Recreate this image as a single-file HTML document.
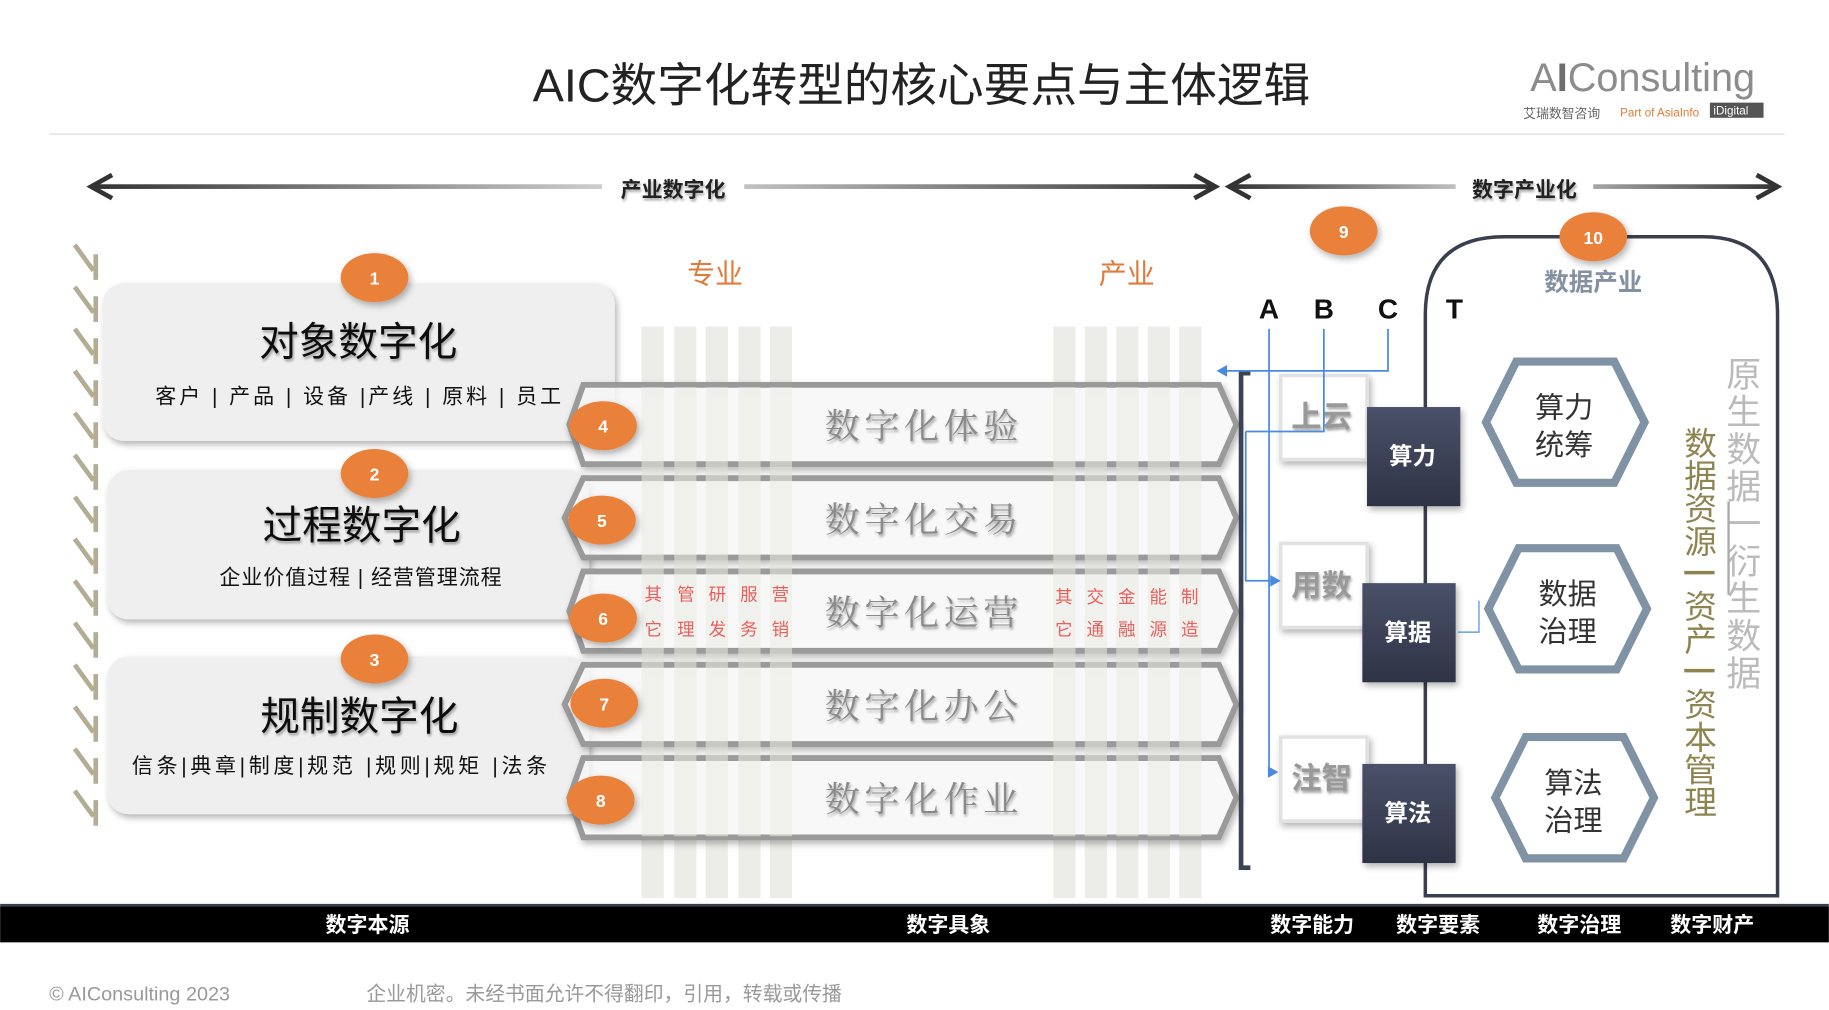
<!DOCTYPE html>
<html><head><meta charset="utf-8"><style>
html,body{margin:0;padding:0;background:#fff;width:1829px;height:1010px;overflow:hidden}
svg text{font-family:"Liberation Sans","Noto Sans CJK SC",sans-serif}
</style></head><body>
<svg width="1829" height="1010" viewBox="0 0 1568 866" xmlns="http://www.w3.org/2000/svg">
<defs>
<linearGradient id="arr1" gradientUnits="userSpaceOnUse" x1="80" y1="0" x2="1040" y2="0"><stop offset="0" stop-color="#333"/><stop offset="0.5" stop-color="#ddd"/><stop offset="1" stop-color="#333"/></linearGradient>
<linearGradient id="arr2" gradientUnits="userSpaceOnUse" x1="1056" y1="0" x2="1522" y2="0"><stop offset="0" stop-color="#333"/><stop offset="0.5" stop-color="#ddd"/><stop offset="1" stop-color="#333"/></linearGradient>
<linearGradient id="dk" x1="0" y1="0" x2="0" y2="1"><stop offset="0" stop-color="#4a5169"/><stop offset="1" stop-color="#2e3345"/></linearGradient>
<filter id="sh" x="-20%" y="-20%" width="140%" height="150%"><feDropShadow dx="2" dy="3" stdDeviation="3" flood-color="#000" flood-opacity="0.3"/></filter>
<filter id="ts"><feDropShadow dx="1" dy="2" stdDeviation="1.2" flood-color="#000" flood-opacity="0.35"/></filter>
</defs>
<!-- title -->
<text x="790" y="87" font-size="40" text-anchor="middle" fill="#222">AIC数字化转型的核心要点与主体逻辑</text>
<text x="1312" y="78" font-size="34" fill="#8c8c8c">A<tspan fill="#6d6d6d" font-weight="bold">I</tspan>Consulting</text>
<text x="1306" y="101" font-size="11" fill="#666">艾瑞数智咨询</text>
<text x="1389" y="100" font-size="10" fill="#e07b39">Part of AsiaInfo</text>
<rect x="1466" y="88" width="46" height="13" fill="#555"/><text x="1469" y="98" font-size="10" fill="#fff">iDigital</text>
<line x1="42" y1="115" x2="1530" y2="115" stroke="#e6e6e6" stroke-width="1.5"/>
<!-- top arrows -->
<rect x="80" y="158" width="960" height="4" fill="url(#arr1)"/>
<path d="M96 150 L78 160 L96 170 M1024 150 L1042 160 L1024 170" stroke="#333" stroke-width="4" fill="none"/>
<rect x="516" y="148" width="122" height="24" fill="#fff"/>
<text x="577" y="169" font-size="18" font-weight="bold" text-anchor="middle" fill="#222" filter="url(#ts)">产业数字化</text>
<rect x="1056" y="158" width="466" height="4" fill="url(#arr2)"/>
<path d="M1072 150 L1054 160 L1072 170 M1506 150 L1524 160 L1506 170" stroke="#333" stroke-width="4" fill="none"/>
<rect x="1248" y="148" width="118" height="24" fill="#fff"/>
<text x="1307" y="169" font-size="18" font-weight="bold" text-anchor="middle" fill="#222" filter="url(#ts)">数字产业化</text>
<!-- hatching -->
<g stroke="#b3ad94" stroke-width="4" fill="none">
<path d="M64 210 L80 232 M82 218 V240 M64 246 L80 268 M82 254 V276 M64 282 L80 304 M82 290 V312 M64 318 L80 340 M82 326 V348 M64 354 L80 376 M82 362 V384 M64 390 L80 412 M82 398 V420 M64 426 L80 448 M82 434 V456 M64 462 L80 484 M82 470 V492 M64 498 L80 520 M82 506 V528 M64 534 L80 556 M82 542 V564 M64 570 L80 592 M82 578 V600 M64 606 L80 628 M82 614 V636 M64 642 L80 664 M82 650 V672 M64 678 L80 700 M82 686 V708"/>
</g>
<!-- left boxes -->
<rect x="88" y="243" width="439" height="135" rx="18" fill="#efefef" filter="url(#sh)"/>
<rect x="92" y="403" width="413" height="128" rx="18" fill="#efefef" filter="url(#sh)"/>
<rect x="92" y="563" width="413" height="135" rx="18" fill="#efefef" filter="url(#sh)"/>
<!-- stripes background -->
<g fill="#ecece8">
<rect x="550" y="280" width="19" height="490"/><rect x="578" y="280" width="19" height="490"/><rect x="605" y="280" width="19" height="490"/><rect x="633" y="280" width="19" height="490"/><rect x="660" y="280" width="19" height="490"/>
<rect x="903" y="280" width="19" height="490"/><rect x="930" y="280" width="19" height="490"/><rect x="957" y="280" width="19" height="490"/><rect x="984" y="280" width="19" height="490"/><rect x="1011" y="280" width="19" height="490"/>
</g>
<!-- bands -->
<g fill="#fff" stroke="#9a9a9a" stroke-width="5" filter="url(#sh)" fill-opacity="0.75">
<path d="M500 330 H1045 L1060 364 L1045 398 H500 L488 364 Z"/>
<path d="M500 410 H1045 L1060 444 L1045 478 H500 L484 444 Z"/>
<path d="M500 490 H1045 L1060 524 L1045 558 H500 L488 524 Z"/>
<path d="M500 570 H1045 L1060 604 L1045 638 H500 L484 604 Z"/>
<path d="M500 650 H1045 L1060 684 L1045 718 H500 L488 684 Z"/>
</g>
<g fill="#ecece8" opacity="0.55">
<rect x="550" y="332" width="19" height="385"/><rect x="578" y="332" width="19" height="385"/><rect x="605" y="332" width="19" height="385"/><rect x="633" y="332" width="19" height="385"/><rect x="660" y="332" width="19" height="385"/>
<rect x="903" y="332" width="19" height="385"/><rect x="930" y="332" width="19" height="385"/><rect x="957" y="332" width="19" height="385"/><rect x="984" y="332" width="19" height="385"/><rect x="1011" y="332" width="19" height="385"/>
</g>
<g font-size="30" fill="#8a8a8a" text-anchor="middle" filter="url(#ts)" letter-spacing="4">
<text x="792" y="376" style="font-family:'Noto Serif CJK SC',serif">数字化体验</text>
<text x="792" y="456" style="font-family:'Noto Serif CJK SC',serif">数字化交易</text>
<text x="792" y="536" style="font-family:'Noto Serif CJK SC',serif">数字化运营</text>
<text x="792" y="616" style="font-family:'Noto Serif CJK SC',serif">数字化办公</text>
<text x="792" y="696" style="font-family:'Noto Serif CJK SC',serif">数字化作业</text>
</g>
<g font-size="15" fill="#e8605c" text-anchor="middle">
<text x="560" y="515">其</text><text x="588" y="515">管</text><text x="615" y="515">研</text><text x="642" y="515">服</text><text x="669" y="515">营</text>
<text x="560" y="545">它</text><text x="588" y="545">理</text><text x="615" y="545">发</text><text x="642" y="545">务</text><text x="669" y="545">销</text>
<text x="912" y="517">其</text><text x="939" y="517">交</text><text x="966" y="517">金</text><text x="993" y="517">能</text><text x="1020" y="517">制</text>
<text x="912" y="545">它</text><text x="939" y="545">通</text><text x="966" y="545">融</text><text x="993" y="545">源</text><text x="1020" y="545">造</text>
</g>
<text x="613" y="243" font-size="24" fill="#e07b39" text-anchor="middle">专业</text>
<text x="966" y="243" font-size="24" fill="#e07b39" text-anchor="middle">产业</text>
<!-- left box text -->
<g fill="#111">
<text x="307" y="305" font-size="34" text-anchor="middle" filter="url(#ts)">对象数字化</text>
<text x="133" y="346" font-size="18" textLength="348" lengthAdjust="spacing">客户 | 产品 |  设备 |产线 | 原料 | 员工</text>
<text x="310" y="462" font-size="34" text-anchor="middle" filter="url(#ts)">过程数字化</text>
<text x="188" y="501" font-size="18" textLength="242" lengthAdjust="spacing">企业价值过程 | 经营管理流程</text>
<text x="308" y="626" font-size="34" text-anchor="middle" filter="url(#ts)">规制数字化</text>
<text x="113" y="663" font-size="18" textLength="356" lengthAdjust="spacing">信条|典章|制度|规范 |规则|规矩 |法条</text>
</g>
<!-- bracket -->
<path d="M1072 320 H1064 V744 H1072" stroke="#3d4356" stroke-width="4" fill="none"/>
<!-- ABCT -->
<g font-size="24" font-weight="bold" fill="#111" text-anchor="middle">
<text x="1088" y="273">A</text><text x="1135" y="273">B</text><text x="1190" y="273">C</text><text x="1247" y="273">T</text>
</g>
<!-- white boxes -->
<g fill="#fff" stroke="#e2e2e2" stroke-width="3" filter="url(#sh)">
<rect x="1098" y="322" width="74" height="72"/><rect x="1098" y="466" width="74" height="72"/><rect x="1098" y="632" width="74" height="72"/>
</g>
<g font-size="26" font-weight="bold" fill="#999" text-anchor="middle" filter="url(#ts)">
<text x="1133" y="366">上云</text><text x="1133" y="511">用数</text><text x="1133" y="676">注智</text>
</g>
<!-- blue lines -->
<g stroke="#4a8be0" stroke-width="1.5" fill="none">
<path d="M1088 282 V662"/><path d="M1135 282 V370 H1068"/><path d="M1190 282 V318 H1048"/>
<path d="M1068 370 V498 H1094"/><path d="M1088 662 H1094"/>
</g>
<path d="M1043 318 L1052 313 V323 Z M1098 498 L1089 493 V503 Z M1096 662 L1087 657 V667 Z" fill="#4a8be0"/>
<!-- right frame -->
<path d="M1222 768 V270 Q1222 203 1290 203 H1460 Q1524 203 1524 270 V768 Z" fill="none" stroke="#3a3f50" stroke-width="3"/>
<text x="1366" y="249" font-size="21" font-weight="bold" fill="#8391a3" text-anchor="middle">数据产业</text>
<!-- dark boxes -->
<g filter="url(#sh)">
<rect x="1172" y="349" width="80" height="85" fill="url(#dk)"/>
<rect x="1168" y="500" width="80" height="85" fill="url(#dk)"/>
<rect x="1168" y="655" width="80" height="85" fill="url(#dk)"/>
</g>
<g font-size="20" font-weight="bold" fill="#fff" text-anchor="middle">
<text x="1211" y="398">算力</text><text x="1207" y="549">算据</text><text x="1207" y="704">算法</text>
</g>
<path d="M1250 542 H1268 V515" stroke="#4a8be0" stroke-width="1" fill="none"/>
<!-- hexagons -->
<g fill="#fff" stroke="#8093a5" stroke-width="7">
<path d="M1300 310 H1384 L1410 362 L1384 414 H1300 L1274 362 Z"/>
<path d="M1302 470 H1386 L1412 522 L1386 574 H1302 L1276 522 Z"/>
<path d="M1308 632 H1392 L1418 684 L1392 736 H1308 L1282 684 Z"/>
</g>
<g font-size="25" fill="#333" text-anchor="middle">
<text x="1341" y="358">算力</text><text x="1341" y="390">统筹</text>
<text x="1344" y="518">数据</text><text x="1344" y="550">治理</text>
<text x="1349" y="680">算法</text><text x="1349" y="712">治理</text>
</g>
<!-- vertical text -->
<g font-size="30" fill="#bbb" text-anchor="middle">
<text x="1495" y="332">原</text><text x="1495" y="364">生</text><text x="1495" y="396">数</text><text x="1495" y="428">据</text><text x="1495" y="460">一</text><text x="1495" y="492">衍</text><text x="1495" y="524">生</text><text x="1495" y="556">数</text><text x="1495" y="588">据</text>
</g>
<line x1="1482" y1="430" x2="1482" y2="510" stroke="#aaa" stroke-width="2"/>
<g font-size="28" fill="#8e8450" text-anchor="middle">
<text x="1458" y="390">数</text><text x="1458" y="418">据</text><text x="1458" y="446">资</text><text x="1458" y="474">源</text><text x="1458" y="530">资</text><text x="1458" y="558">产</text><text x="1458" y="614">资</text><text x="1458" y="642">本</text><text x="1458" y="670">管</text><text x="1458" y="698">理</text>
</g>
<g stroke="#8e8450" stroke-width="3">
<line x1="1444" y1="491" x2="1470" y2="491"/><line x1="1444" y1="575" x2="1470" y2="575"/>
</g>
<!-- orange circles -->
<g fill="#e9813a" filter="url(#sh)">
<ellipse cx="321" cy="238" rx="29" ry="21"/><ellipse cx="321" cy="406" rx="29" ry="21"/><ellipse cx="321" cy="565" rx="29" ry="21"/>
<ellipse cx="517" cy="365" rx="29" ry="21"/><ellipse cx="516" cy="446" rx="29" ry="21"/><ellipse cx="517" cy="530" rx="29" ry="21"/><ellipse cx="518" cy="603" rx="29" ry="21"/><ellipse cx="515" cy="686" rx="29" ry="21"/>
<ellipse cx="1152" cy="198" rx="29" ry="21"/><ellipse cx="1366" cy="203" rx="29" ry="21"/>
</g>
<g font-size="15" font-weight="bold" fill="#fff" text-anchor="middle">
<text x="321" y="244">1</text><text x="321" y="412">2</text><text x="321" y="571">3</text>
<text x="517" y="371">4</text><text x="516" y="452">5</text><text x="517" y="536">6</text><text x="518" y="609">7</text><text x="515" y="692">8</text>
<text x="1152" y="204">9</text><text x="1366" y="209">10</text>
</g>
<!-- bottom bar -->
<rect x="0" y="777" width="1568" height="31" fill="#000"/>
<rect x="0" y="775" width="1568" height="2" fill="#3a3f50"/>
<g font-size="18" font-weight="bold" fill="#fff" text-anchor="middle">
<text x="315" y="799">数字本源</text><text x="813" y="799">数字具象</text><text x="1125" y="799">数字能力</text><text x="1233" y="799">数字要素</text><text x="1354" y="799">数字治理</text><text x="1468" y="799">数字财产</text>
</g>
<text x="42" y="858" font-size="17" fill="#999">© AIConsulting 2023</text>
<text x="314" y="858" font-size="17" fill="#999">企业机密。未经书面允许不得翻印，引用，转载或传播</text>
</svg>
</body></html>
